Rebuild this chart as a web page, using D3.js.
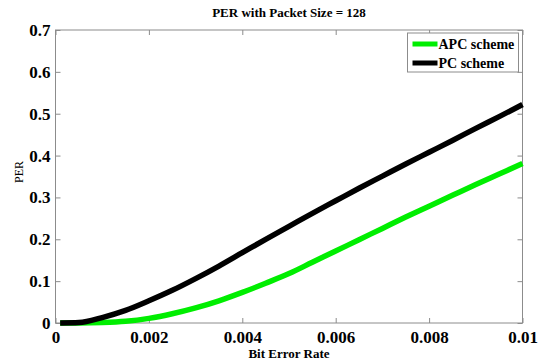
<!DOCTYPE html>
<html>
<head>
<meta charset="utf-8">
<script src="https://cdn.jsdelivr.net/npm/d3@7"></script>
<style>
  body { margin: 0; background: #fff; }
  svg { display: block; font-family: "Liberation Serif", "Times New Roman", serif; }
</style>
</head>
<body>
<div id="chart"></div>
<script>
// values
const berValues = [0.0001, 0.0005, 0.001, 0.0015, 0.002, 0.0025, 0.003, 0.0035, 0.004, 0.0045, 0.005,
                   0.0055, 0.006, 0.0065, 0.007, 0.0075, 0.008, 0.0085, 0.009, 0.0095, 0.01];
const apcPer = [0, 0, 0.001, 0.004, 0.011, 0.022, 0.036, 0.053, 0.073, 0.095, 0.118,
                0.145, 0.172, 0.199, 0.226, 0.253, 0.279, 0.305, 0.331, 0.356, 0.381];
const pcPer = [0, 0.001, 0.013, 0.030, 0.053, 0.078, 0.106, 0.136, 0.168, 0.200, 0.231,
               0.262, 0.292, 0.322, 0.351, 0.380, 0.408, 0.436, 0.465, 0.493, 0.522];
const seriesNames = ['APC scheme', 'PC scheme'];
const seriesColors = ['#00ee00', '#000000'];
const xTicks = [0, 0.002, 0.004, 0.006, 0.008, 0.01];
const yTicks = [0, 0.1, 0.2, 0.3, 0.4, 0.5, 0.6, 0.7];

const W = 548, H = 363;
const margin = { top: 30, right: 25.5, bottom: 40, left: 55.5 };
const width = W - margin.left - margin.right;
const height = H - margin.top - margin.bottom;
const serif = '"Liberation Serif", "Times New Roman", serif';

const svg = d3.select('#chart')
    .append('svg')
    .attr('width', W)
    .attr('height', H);

const g = svg.append('g')
    .attr('transform', `translate(${margin.left},${margin.top})`);

const x = d3.scaleLinear().domain([0, 0.01]).range([0, width]);
const y = d3.scaleLinear().domain([0, 0.7]).range([height, 0]);

const axisColor = '#8c8c8c';
const fmt = d => d === 0 ? '0' : String(+d.toFixed(3));

// axes, ticks pointing inward like matlab
const styleAxis = sel => {
    sel.select('.domain').remove();
    sel.selectAll('.tick line').attr('stroke', axisColor);
    sel.selectAll('.tick text')
        .attr('fill', '#000')
        .style('font-family', serif)
        .style('font-size', '17px')
        .style('font-weight', 'bold');
};

g.append('g')
    .attr('transform', `translate(0,${height})`)
    .call(d3.axisBottom(x).tickValues(xTicks).tickFormat(fmt).tickSizeInner(-5).tickPadding(8))
    .call(styleAxis);

g.append('g')
    .call(d3.axisTop(x).tickValues(xTicks).tickFormat('').tickSizeInner(-5))
    .call(styleAxis);

g.append('g')
    .call(d3.axisLeft(y).tickValues(yTicks).tickFormat(fmt).tickSizeInner(-5).tickPadding(5))
    .call(styleAxis);

g.append('g')
    .attr('transform', `translate(${width},0)`)
    .call(d3.axisRight(y).tickValues(yTicks).tickFormat('').tickSizeInner(-5))
    .call(styleAxis);

g.append('rect')
    .attr('width', width)
    .attr('height', height)
    .attr('fill', 'none')
    .attr('stroke', axisColor)
    .attr('stroke-width', 1);

// curves
const line = d3.line()
    .x(d => x(d[0]))
    .y(d => y(d[1]))
    .curve(d3.curveMonotoneX);

[apcPer, pcPer].forEach((vals, i) => {
    g.append('path')
        .datum(berValues.map((b, j) => [b, vals[j]]))
        .attr('d', line)
        .attr('fill', 'none')
        .attr('stroke', seriesColors[i])
        .attr('stroke-width', 5.5)
        .attr('stroke-linejoin', 'round');
});

// legend
const legend = g.append('g')
    .attr('transform', `translate(${width - 115},3)`);

legend.append('rect')
    .attr('width', 111)
    .attr('height', 39)
    .attr('fill', '#fff')
    .attr('stroke', axisColor);

seriesNames.forEach((name, i) => {
    const ly = 11 + i * 19;
    legend.append('line')
        .attr('x1', 5).attr('x2', 30)
        .attr('y1', ly).attr('y2', ly)
        .attr('stroke', seriesColors[i])
        .attr('stroke-width', 5);
    legend.append('text')
        .attr('x', 31)
        .attr('y', ly + 5)
        .style('font-size', '14px')
        .style('font-weight', 'bold')
        .text(name);
});

// titles
svg.append('text')
    .attr('x', margin.left + width / 2)
    .attr('y', 17)
    .attr('text-anchor', 'middle')
    .style('font-size', '13px')
    .style('font-weight', 'bold')
    .text('PER with Packet Size = 128');

svg.append('text')
    .attr('x', margin.left + width / 2)
    .attr('y', 358)
    .attr('text-anchor', 'middle')
    .style('font-size', '13px')
    .style('font-weight', 'bold')
    .text('Bit Error Rate');

svg.append('text')
    .attr('transform', 'translate(23,172) rotate(-90)')
    .attr('text-anchor', 'middle')
    .style('font-size', '12px')
    .text('PER');
</script>
</body>
</html>
